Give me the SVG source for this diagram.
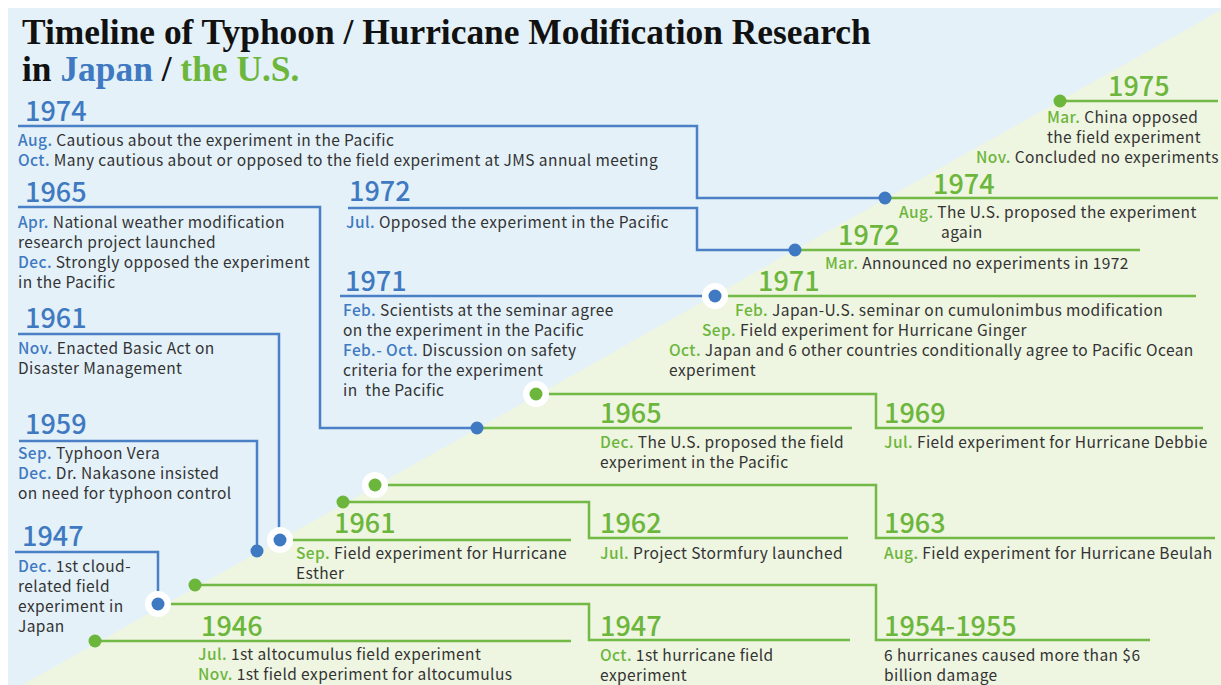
<svg xmlns="http://www.w3.org/2000/svg" width="1221" height="685" viewBox="0 0 1221 685">
<style>
.title{font-family:"Liberation Serif","Times New Roman",serif;font-weight:bold;font-size:35.4px;fill:#111}
.yb{font-family:"Noto Sans CJK JP","Noto Sans",sans-serif;font-weight:500;font-size:27px;fill:#3f79c1}
.yg{font-family:"Noto Sans CJK JP","Noto Sans",sans-serif;font-weight:500;font-size:27px;fill:#6cb63c}
.t{font-family:"Noto Sans CJK JP","Noto Sans",sans-serif;font-size:15.5px;letter-spacing:0.42px;fill:#333}
.mb{fill:#3f79c1;font-weight:500}
.mg{fill:#6cb63c;font-weight:500}
.lb{fill:none;stroke:#4a80c6;stroke-width:2.5}
.lg{fill:none;stroke:#72b946;stroke-width:2.5}
.ring{fill:#fff}
.db{fill:#3f79c1}
.dg{fill:#6cb63c}
</style>
<rect x="0" y="0" width="1221" height="685" fill="#fff"/>
<rect x="8" y="8" width="1213" height="677" fill="#e4f1f9"/>
<polygon points="1221,10 1221,685 22,685" fill="#eef5e1"/>

<g id="title">
<text class="title" x="22" y="44">Timeline of Typhoon / Hurricane Modification Research</text>
<text class="title" x="22" y="81">in <tspan fill="#3f79c1">Japan</tspan> / <tspan fill="#6cb63c">the U.S.</tspan></text>
</g>

<g id="connectors">
<polyline class="lb" points="18,126 697,126 697,198 885,198"/>
<polyline class="lb" points="348,208 697,208 697,250 795,250"/>
<polyline class="lb" points="340,296 715,296"/>
<polyline class="lb" points="18,207 320,207 320,428 477,428"/>
<polyline class="lb" points="18,334 279,334 279,540"/>
<polyline class="lb" points="19,441 257,441 257,551"/>
<polyline class="lb" points="15,552 158,552 158,604"/>
<polyline class="lg" points="1060,101 1218,101"/>
<polyline class="lg" points="885,198 1218,198"/>
<polyline class="lg" points="795,250 1140,250"/>
<polyline class="lg" points="715,296 1196,296"/>
<polyline class="lg" points="536,394 876,394 876,428 1203,428"/>
<polyline class="lg" points="477,428 852,428"/>
<polyline class="lg" points="375,485 876,485 876,538 1215,538"/>
<polyline class="lg" points="343,502 589,502 589,538 848,538"/>
<polyline class="lg" points="279,540 571,540"/>
<polyline class="lg" points="195,585 876,585 876,640 1150,640"/>
<polyline class="lg" points="158,604 589,604 589,640 850,640"/>
<polyline class="lg" points="95,641 571,641"/>
<circle class="ring" cx="715" cy="296" r="13"/>
<circle class="ring" cx="536" cy="394" r="13"/>
<circle class="ring" cx="375" cy="485" r="13"/>
<circle class="ring" cx="280" cy="540" r="13"/>
<circle class="ring" cx="158" cy="604" r="13"/>
<circle class="db" cx="885" cy="198" r="6.5"/>
<circle class="db" cx="795" cy="250" r="6.5"/>
<circle class="db" cx="715" cy="296" r="6.5"/>
<circle class="db" cx="477" cy="428" r="6.5"/>
<circle class="db" cx="280" cy="540" r="6.5"/>
<circle class="db" cx="257" cy="551" r="6.5"/>
<circle class="db" cx="158" cy="604" r="6.5"/>
<circle class="dg" cx="1060" cy="101" r="6.5"/>
<circle class="dg" cx="536" cy="394" r="6.5"/>
<circle class="dg" cx="375" cy="485" r="6.5"/>
<circle class="dg" cx="343" cy="502" r="6.5"/>
<circle class="dg" cx="195" cy="585" r="6.5"/>
<circle class="dg" cx="95" cy="641" r="6.5"/>
</g>

<g id="jp1974">
<text class="yb" x="25" y="121">1974</text>
<text class="t" x="18" y="146"><tspan class="mb">Aug.</tspan> Cautious about the experiment in the Pacific</text>
<text class="t" x="18" y="166"><tspan class="mb">Oct.</tspan> Many cautious about or opposed to the field experiment at JMS annual meeting</text>
</g>
<g id="jp1965">
<text class="yb" x="25" y="202">1965</text>
<text class="t" x="18" y="228"><tspan class="mb">Apr.</tspan> National weather modification</text>
<text class="t" x="18" y="248">research project launched</text>
<text class="t" x="18" y="268"><tspan class="mb">Dec.</tspan> Strongly opposed the experiment</text>
<text class="t" x="18" y="288">in the Pacific</text>
</g>
<g id="jp1961">
<text class="yb" x="25" y="328">1961</text>
<text class="t" x="18" y="354"><tspan class="mb">Nov.</tspan> Enacted Basic Act on</text>
<text class="t" x="18" y="374">Disaster Management</text>
</g>
<g id="jp1959">
<text class="yb" x="25" y="434">1959</text>
<text class="t" x="18" y="459"><tspan class="mb">Sep.</tspan> Typhoon Vera</text>
<text class="t" x="18" y="479"><tspan class="mb">Dec.</tspan> Dr. Nakasone insisted</text>
<text class="t" x="18" y="499">on need for typhoon control</text>
</g>
<g id="jp1947">
<text class="yb" x="22" y="546">1947</text>
<text class="t" x="18" y="572"><tspan class="mb">Dec.</tspan> 1st cloud-</text>
<text class="t" x="18" y="592">related field</text>
<text class="t" x="18" y="612">experiment in</text>
<text class="t" x="18" y="632">Japan</text>
</g>
<g id="jp1972">
<text class="yb" x="349" y="201">1972</text>
<text class="t" x="346" y="228"><tspan class="mb">Jul.</tspan> Opposed the experiment in the Pacific</text>
</g>
<g id="jp1971">
<text class="yb" x="345" y="291">1971</text>
<text class="t" x="343" y="316"><tspan class="mb">Feb.</tspan> Scientists at the seminar agree</text>
<text class="t" x="343" y="336">on the experiment in the Pacific</text>
<text class="t" x="343" y="356"><tspan class="mb">Feb.- Oct.</tspan> Discussion on safety</text>
<text class="t" x="343" y="376">criteria for the experiment</text>
<text class="t" x="343" y="396" style="white-space:pre">in  the Pacific</text>
</g>

<g id="us1975">
<text class="yg" x="1108" y="96">1975</text>
<text class="t" x="1047" y="123"><tspan class="mg">Mar.</tspan> China opposed</text>
<text class="t" x="1047" y="143">the field experiment</text>
<text class="t" x="976" y="163"><tspan class="mg">Nov.</tspan> Concluded no experiments</text>
</g>
<g id="us1974">
<text class="yg" x="933" y="194">1974</text>
<text class="t" x="899" y="218"><tspan class="mg">Aug.</tspan> The U.S. proposed the experiment</text>
<text class="t" x="941" y="238">again</text>
</g>
<g id="us1972">
<text class="yg" x="838" y="245">1972</text>
<text class="t" x="825" y="269"><tspan class="mg">Mar.</tspan> Announced no experiments in 1972</text>
</g>
<g id="us1971">
<text class="yg" x="758" y="291">1971</text>
<text class="t" x="735" y="316"><tspan class="mg">Feb.</tspan> Japan-U.S. seminar on cumulonimbus modification</text>
<text class="t" x="702" y="336"><tspan class="mg">Sep.</tspan> Field experiment for Hurricane Ginger</text>
<text class="t" x="669" y="356"><tspan class="mg">Oct.</tspan> Japan and 6 other countries conditionally agree to Pacific Ocean</text>
<text class="t" x="669" y="376">experiment</text>
</g>
<g id="us1969">
<text class="yg" x="884" y="423">1969</text>
<text class="t" x="884" y="448"><tspan class="mg">Jul.</tspan> Field experiment for Hurricane Debbie</text>
</g>
<g id="us1965">
<text class="yg" x="600" y="423">1965</text>
<text class="t" x="600" y="448"><tspan class="mg">Dec.</tspan> The U.S. proposed the field</text>
<text class="t" x="600" y="468">experiment in the Pacific</text>
</g>
<g id="us1963">
<text class="yg" x="884" y="533">1963</text>
<text class="t" x="884" y="559"><tspan class="mg">Aug.</tspan> Field experiment for Hurricane Beulah</text>
</g>
<g id="us1962">
<text class="yg" x="600" y="533">1962</text>
<text class="t" x="600" y="559"><tspan class="mg">Jul.</tspan> Project Stormfury launched</text>
</g>
<g id="us1961">
<text class="yg" x="334" y="533">1961</text>
<text class="t" x="296" y="559"><tspan class="mg">Sep.</tspan> Field experiment for Hurricane</text>
<text class="t" x="296" y="579">Esther</text>
</g>
<g id="us1954">
<text class="yg" x="884" y="636">1954-1955</text>
<text class="t" x="884" y="661">6 hurricanes caused more than $6</text>
<text class="t" x="884" y="681">billion damage</text>
</g>
<g id="us1947">
<text class="yg" x="600" y="636">1947</text>
<text class="t" x="600" y="661"><tspan class="mg">Oct.</tspan> 1st hurricane field</text>
<text class="t" x="600" y="681">experiment</text>
</g>
<g id="us1946">
<text class="yg" x="201" y="636">1946</text>
<text class="t" x="198" y="660"><tspan class="mg">Jul.</tspan> 1st altocumulus field experiment</text>
<text class="t" x="198" y="680"><tspan class="mg">Nov.</tspan> 1st field experiment for altocumulus</text>
</g>
</svg>
